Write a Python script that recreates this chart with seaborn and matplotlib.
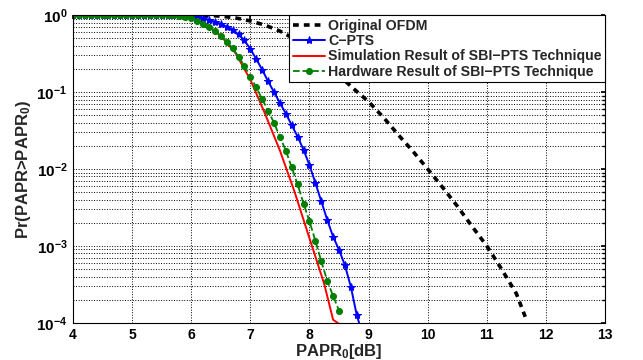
import numpy as np
import pandas as pd
import matplotlib
matplotlib.use('Agg')
import matplotlib.pyplot as plt
import seaborn as sns
from matplotlib.ticker import LogLocator, NullFormatter

# ---------------------- data ----------------------
x_ofdm = [4.0, 4.5, 5.0, 5.5, 6.0, 6.25, 6.5, 6.75, 7.0, 7.25, 7.5, 7.75, 8.0, 8.25, 8.5,
          8.75, 9.0, 9.25, 9.5, 9.75, 10.0, 10.25, 10.5, 10.75, 11.0, 11.25, 11.5, 11.65]
p_ofdm = [1.0, 1.0, 1.0, 1.0, 0.999, 0.995, 0.97, 0.92, 0.84, 0.74, 0.62, 0.49, 0.36, 0.25, 0.165,
          0.11, 0.075, 0.047, 0.028, 0.017, 0.01, 0.0058, 0.0033, 0.0018, 0.001, 0.0005, 0.00024, 0.00012]

# C-PTS, 0.1 dB steps
x_cpts = [4.0, 4.1, 4.2, 4.3, 4.4, 4.5, 4.6, 4.7, 4.8, 4.9,
          5.0, 5.1, 5.2, 5.3, 5.4, 5.5, 5.6, 5.7, 5.8, 5.9,
          6.0, 6.1, 6.2, 6.3, 6.4, 6.5, 6.6, 6.7, 6.8, 6.9,
          7.0, 7.1, 7.2, 7.3, 7.4, 7.5, 7.6, 7.7, 7.8, 7.9,
          8.0, 8.1, 8.2, 8.3, 8.4, 8.5, 8.6, 8.7, 8.8, 8.86]
p_cpts = [1.0, 1.0, 1.0, 1.0, 1.0, 1.0, 1.0, 1.0, 1.0, 1.0,
          1.0, 1.0, 1.0, 1.0, 1.0, 1.0, 0.999, 0.995, 0.991, 0.98,
          0.964, 0.94, 0.908, 0.871, 0.822, 0.767, 0.708, 0.646, 0.562, 0.468,
          0.363, 0.269, 0.195, 0.138, 0.1, 0.0724, 0.0525, 0.0372, 0.0263, 0.0178,
          0.0112, 0.0066, 0.0038, 0.00219, 0.00132, 0.00089, 0.00056, 0.000295, 0.000126, 0.000089]

x_sim = [4.0, 4.5, 5.0, 5.5, 5.75, 6.0, 6.25, 6.5, 6.75, 7.0, 7.25, 7.5, 7.75, 8.0, 8.25, 8.4, 8.52]
p_sim = [1.0, 1.0, 1.0, 1.0, 0.995, 0.91, 0.76, 0.54, 0.32, 0.145, 0.052, 0.0174, 0.005, 0.00126,
         0.00032, 0.00011, 0.000095]

# hardware, 0.1 dB steps
x_hw = [4.0, 4.1, 4.2, 4.3, 4.4, 4.5, 4.6, 4.7, 4.8, 4.9,
        5.0, 5.1, 5.2, 5.3, 5.4, 5.5, 5.6, 5.7, 5.8, 5.9,
        6.0, 6.1, 6.2, 6.3, 6.4, 6.5, 6.6, 6.7, 6.8, 6.9,
        7.0, 7.1, 7.2, 7.3, 7.4, 7.5, 7.6, 7.7, 7.8, 7.9,
        8.0, 8.1, 8.2, 8.3, 8.4, 8.5]
p_hw = [1.0, 1.0, 1.0, 1.0, 1.0, 1.0, 1.0, 1.0, 1.0, 1.0,
        1.0, 1.0, 1.0, 1.0, 1.0, 1.0, 0.998, 0.991, 0.98, 0.955,
        0.912, 0.851, 0.776, 0.708, 0.617, 0.537, 0.447, 0.372, 0.288, 0.219,
        0.158, 0.115, 0.081, 0.0575, 0.0398, 0.0263, 0.0174, 0.0105, 0.0063, 0.00355,
        0.00209, 0.00117, 0.00063, 0.000355, 0.000224, 0.000145]

labels = ['Original OFDM', 'C\u2212PTS', 'Simulation Result of SBI\u2212PTS Technique',
          'Hardware Result of SBI\u2212PTS Technique']

# ---------------------- style ----------------------
sns.set_theme(style='white')
plt.rcParams['font.family'] = ['Liberation Sans', 'DejaVu Sans']
plt.rcParams['font.weight'] = 'bold'
plt.rcParams['mathtext.fontset'] = 'custom'
plt.rcParams['mathtext.rm'] = 'Liberation Sans:bold'
plt.rcParams['mathtext.bf'] = 'Liberation Sans:bold'
plt.rcParams['mathtext.default'] = 'bf'

fig = plt.figure(figsize=(6.43, 3.60), dpi=100)
ax = fig.add_axes([0.1135, 0.103, 0.8275, 0.855])

sns.lineplot(x=x_ofdm, y=p_ofdm, ax=ax, color='black', lw=2.6, dashes=False,
             label=labels[0], linestyle=(0, (1.6, 1.4)))
sns.lineplot(x=x_cpts, y=p_cpts, ax=ax, color='#0000ff', lw=1.4, marker='*', markersize=6,
             markeredgecolor='#0000ff', label=labels[1])
sns.lineplot(x=x_sim, y=p_sim, ax=ax, color='#ff0000', lw=1.4, label=labels[2])
sns.lineplot(x=x_hw, y=p_hw, ax=ax, color='#008000', lw=1.3, linestyle='--', marker='o',
             markersize=4.3, markeredgecolor='#008000', label=labels[3])

ax.set_yscale('log')
ax.set_xlim(4, 13)
ax.set_ylim(1e-4, 1)
ax.set_xticks(range(4, 14))
ax.set_xticklabels([str(v) for v in range(4, 14)], fontsize=10, fontweight='bold')
ax.set_yticks([1e-4, 1e-3, 1e-2, 1e-1, 1])
ax.set_yticklabels([r'$10^{-4}$', r'$10^{-3}$', r'$10^{-2}$', r'$10^{-1}$', r'$10^{0}$'], fontsize=11)
ax.yaxis.set_minor_locator(LogLocator(base=10, subs=np.arange(2, 10), numticks=20))
ax.yaxis.set_minor_formatter(NullFormatter())

ax.grid(True, which='major', axis='both', color='black', ls=':', lw=0.7)
ax.grid(True, which='minor', axis='y', color='black', ls=':', lw=0.7)
ax.tick_params(which='both', direction='in', top=True, right=True, color='black',
               length=3, pad=4, labelcolor='black')
ax.tick_params(which='minor', length=2)
for s in ax.spines.values():
    s.set_color('black')
    s.set_linewidth(0.8)

ax.set_xlabel(r'PAPR$_0$[dB]', fontsize=12, fontweight='bold', labelpad=0)
ax.set_ylabel(r'Pr(PAPR>PAPR$_0$)', fontsize=12, fontweight='bold', labelpad=2)

leg = ax.legend(loc='upper right', borderaxespad=0, fancybox=False, framealpha=1,
                edgecolor='black', handlelength=2.3, handletextpad=0.2,
                labelspacing=0.1, borderpad=0.25, numpoints=1,
                prop={'weight': 'bold', 'size': 10.2})
leg.get_frame().set_linewidth(0.8)

fig.savefig('out.png', dpi=100)
